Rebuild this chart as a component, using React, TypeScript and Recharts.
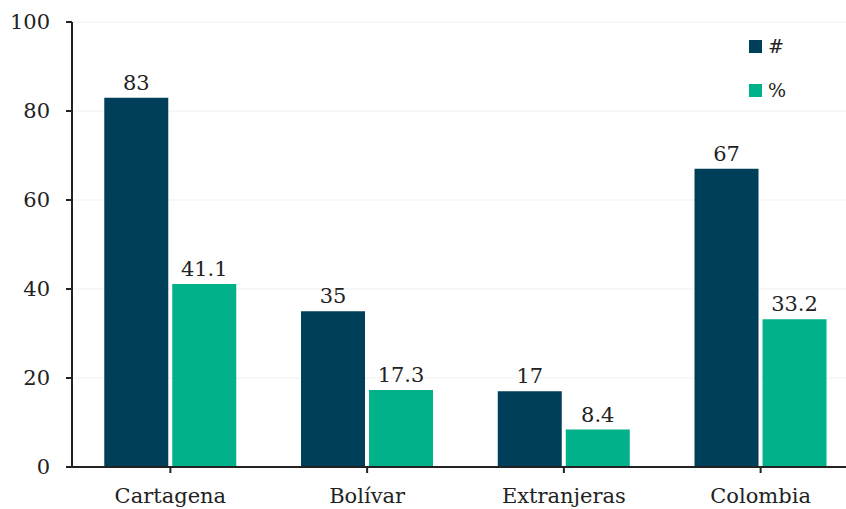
import * as React from "react"
import {
    Bar,
    BarChart,
    CartesianGrid,
    LabelList,
    XAxis,
    YAxis,
} from "recharts"

const categories = ["Cartagena", "Bolívar", "Extranjeras", "Colombia"]
const countValues = [83, 35, 17, 67]
const pctValues = [41.1, 17.3, 8.4, 33.2]
const yTicks = [0, 20, 40, 60, 80, 100]

const colors = { count: "#003f5a", pct: "#00b189" }
const font = "'DejaVu Serif', serif"

const data = categories.map((name, i) => ({
    name,
    count: countValues[i],
    pct: pctValues[i],
}))

function LegendBox() {
    const items = [
        { label: "#", color: colors.count },
        { label: "%", color: colors.pct },
    ]
    return (
        <div
            style={{
                position: "absolute",
                left: 749,
                top: 24,
                fontFamily: font,
            }}
        >
            {items.map((it) => (
                <div
                    key={it.label}
                    style={{ display: "flex", alignItems: "center", height: 44 }}
                >
                    <div
                        style={{
                            width: 13,
                            height: 13,
                            background: it.color,
                            marginRight: 6,
                        }}
                    />
                    <span style={{ fontSize: 19, color: "#222" }}>{it.label}</span>
                </div>
            ))}
        </div>
    )
}

export default function App() {
    return (
        <div
            style={{
                position: "absolute",
                left: 0,
                top: 0,
                width: 846,
                height: 509,
                overflow: "hidden",
                background: "#fff",
            }}
        >
            <BarChart
                width={859}
                height={509}
                data={data}
                margin={{ top: 22, right: 0, bottom: 0, left: 0 }}
                barCategoryGap="16.4%"
                barGap={4}
            >
                <CartesianGrid
                    horizontal={true}
                    vertical={false}
                    stroke="#efefef"
                />
                <XAxis
                    dataKey="name"
                    height={42}
                    tickSize={6}
                    tickMargin={15}
                    stroke="#222"
                    strokeWidth={2}
                    tick={{ fill: "#222", fontSize: 21, fontFamily: font }}
                />
                <YAxis
                    width={72}
                    domain={[0, 100]}
                    ticks={yTicks}
                    tickSize={6}
                    tickMargin={16}
                    stroke="#222"
                    strokeWidth={2}
                    tick={{ fill: "#222", fontSize: 21, fontFamily: font }}
                />
                <Bar dataKey="count" fill={colors.count} isAnimationActive={false}>
                    <LabelList
                        dataKey="count"
                        position="top"
                        offset={8}
                        fill="#222"
                        fontSize={21}
                        fontFamily={font}
                    />
                </Bar>
                <Bar dataKey="pct" fill={colors.pct} isAnimationActive={false}>
                    <LabelList
                        dataKey="pct"
                        position="top"
                        offset={8}
                        fill="#222"
                        fontSize={21}
                        fontFamily={font}
                    />
                </Bar>
            </BarChart>
            <LegendBox />
        </div>
    )
}
